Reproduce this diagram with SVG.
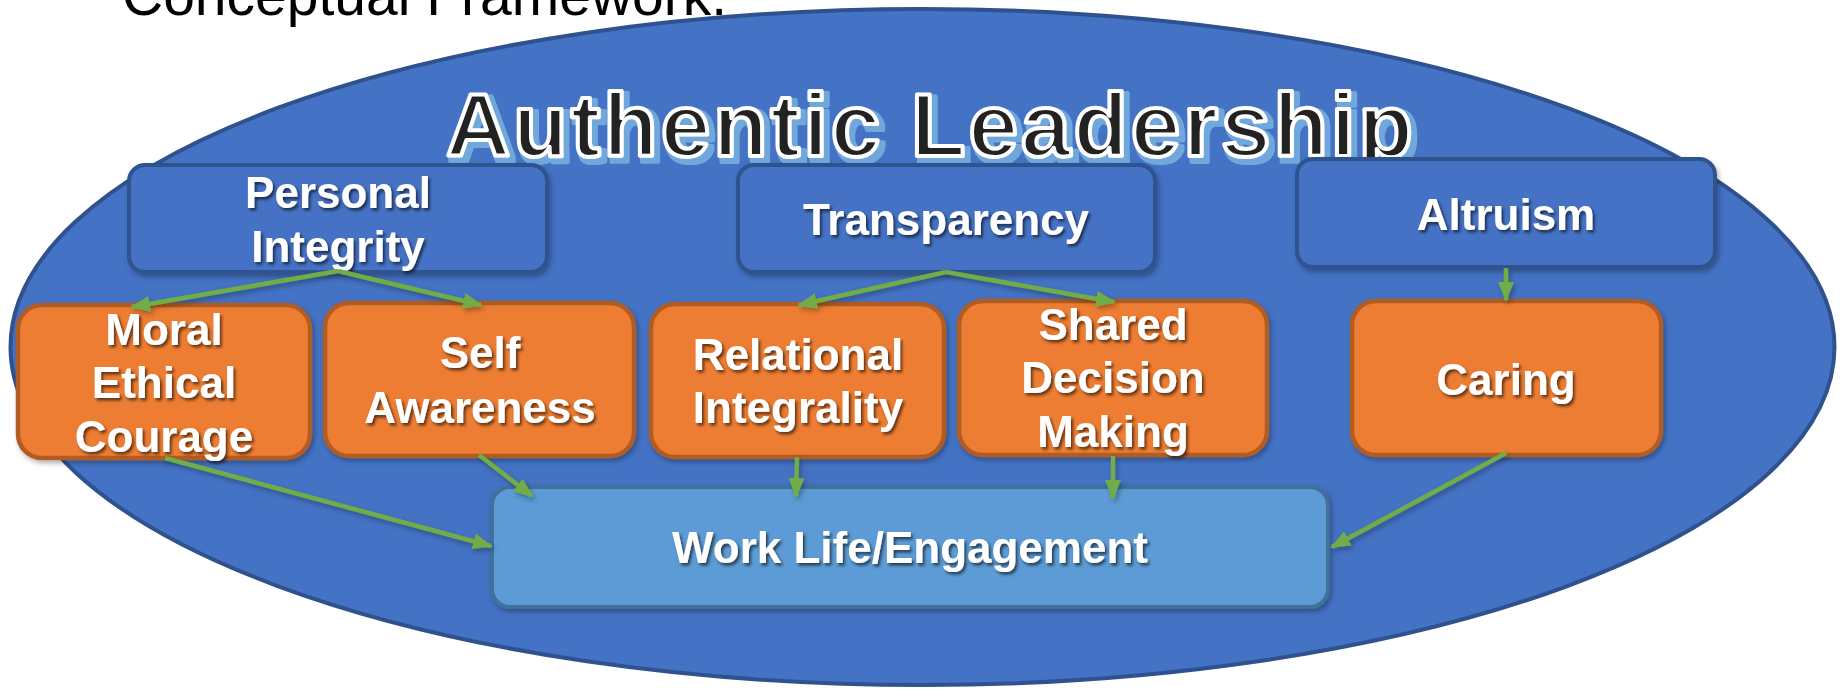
<svg xmlns="http://www.w3.org/2000/svg" width="1841" height="689" viewBox="0 0 1841 689">
<style>
.bl{fill:#4472C4;stroke:#2F528F;stroke-width:4}
.or{fill:#ED7D31;stroke:#B05B24;stroke-width:4.5}
.lb{fill:#5B9BD5;stroke:#41719C;stroke-width:4}
.t{font-family:"Liberation Sans",Arial,sans-serif;font-weight:bold;font-size:44px;fill:#fff;text-anchor:middle}
.c{fill:none;stroke:#70AD47;stroke-width:4.5}
.ttl{font-family:"Liberation Sans",Arial,sans-serif;font-weight:bold;font-size:89px;letter-spacing:3px}
</style>
<defs>
<filter id="ts" x="-10%" y="-30%" width="120%" height="160%">
<feDropShadow dx="2" dy="2.5" stdDeviation="1.5" flood-color="#000" flood-opacity="0.6"/>
</filter>
<filter id="bs" x="-5%" y="-10%" width="110%" height="125%">
<feDropShadow dx="2" dy="3" stdDeviation="2.5" flood-color="#000" flood-opacity="0.3"/>
</filter>
<filter id="tsh" x="-5%" y="-20%" width="110%" height="140%">
<feMorphology in="SourceAlpha" operator="dilate" radius="1.5" result="d"/>
<feOffset in="d" dx="4" dy="4" result="o"/>
<feFlood flood-color="#6FA8DC"/>
<feComposite in2="o" operator="in" result="s"/>
<feMerge><feMergeNode in="s"/><feMergeNode in="SourceGraphic"/></feMerge>
</filter>
<marker id="ah" viewBox="0 0 10 10" refX="9" refY="5" markerWidth="20" markerHeight="16" markerUnits="userSpaceOnUse" orient="auto" preserveAspectRatio="none">
<path d="M0,0 L10,5 L0,10 Z" fill="#70AD47"/>
</marker>
</defs>
<rect width="1841" height="689" fill="#fff"/>
<text x="122" y="15" font-family="'Liberation Sans',Arial,sans-serif" font-size="57" fill="#000">Conceptual Framework.</text>
<g id="bg">
<ellipse cx="922.5" cy="347" rx="912" ry="338" fill="#4472C4" stroke="#2F528F" stroke-width="4"/>
</g>
<g id="title">
<text x="446" y="156" class="ttl" fill="#222" stroke="#fff" stroke-width="4" stroke-linejoin="round" filter="url(#tsh)">Authentic Leadership</text>
</g>
<g id="personal-integrity">
<rect class="bl" x="129" y="165" width="418" height="107" rx="16" filter="url(#bs)"/>
<text class="t" x="338" y="208" filter="url(#ts)">Personal</text>
<text class="t" x="338" y="262" filter="url(#ts)">Integrity</text>
</g>
<g id="transparency">
<rect class="bl" x="738" y="165" width="417" height="107" rx="16" filter="url(#bs)"/>
<text class="t" x="946" y="235" filter="url(#ts)">Transparency</text>
</g>
<g id="altruism">
<rect class="bl" x="1297" y="159" width="418" height="108" rx="16" filter="url(#bs)"/>
<text class="t" x="1506" y="230" filter="url(#ts)">Altruism</text>
</g>
<g id="moral-ethical-courage">
<rect class="or" x="18" y="305" width="292" height="153" rx="24" filter="url(#bs)"/>
<text class="t" x="164" y="345" filter="url(#ts)">Moral</text>
<text class="t" x="164" y="398" filter="url(#ts)">Ethical</text>
<text class="t" x="164" y="452" filter="url(#ts)">Courage</text>
</g>
<g id="self-awareness">
<rect class="or" x="325" y="303" width="309" height="153" rx="24" filter="url(#bs)"/>
<text class="t" x="480" y="368" filter="url(#ts)">Self</text>
<text class="t" x="480" y="423" filter="url(#ts)">Awareness</text>
</g>
<g id="relational-integrality">
<rect class="or" x="651" y="304" width="293" height="153" rx="24" filter="url(#bs)"/>
<text class="t" x="798" y="370" filter="url(#ts)">Relational</text>
<text class="t" x="798" y="423" filter="url(#ts)">Integrality</text>
</g>
<g id="shared-decision-making">
<rect class="or" x="959" y="301" width="308" height="154" rx="24" filter="url(#bs)"/>
<text class="t" x="1113" y="340" filter="url(#ts)">Shared</text>
<text class="t" x="1113" y="393" filter="url(#ts)">Decision</text>
<text class="t" x="1113" y="447" filter="url(#ts)">Making</text>
</g>
<g id="caring">
<rect class="or" x="1352" y="301" width="309" height="154" rx="24" filter="url(#bs)"/>
<text class="t" x="1506" y="395" filter="url(#ts)">Caring</text>
</g>
<g id="work-life-engagement">
<rect class="lb" x="492" y="487" width="836" height="120" rx="18" filter="url(#bs)"/>
<text class="t" x="910" y="563" filter="url(#ts)">Work Life/Engagement</text>
</g>
<g id="connectors" filter="url(#bs)">
<path class="c" d="M338,271 L132,307" marker-end="url(#ah)"/>
<path class="c" d="M338,271 L481,305" marker-end="url(#ah)"/>
<path class="c" d="M946,272 L799,305" marker-end="url(#ah)"/>
<path class="c" d="M946,272 L1114,302" marker-end="url(#ah)"/>
<path class="c" d="M1506,268 L1506,300" marker-end="url(#ah)"/>
<path class="c" d="M165,458 L491,546" marker-end="url(#ah)"/>
<path class="c" d="M479,455 L532,496" marker-end="url(#ah)"/>
<path class="c" d="M797,457 L796,496" marker-end="url(#ah)"/>
<path class="c" d="M1113,456 L1113,498" marker-end="url(#ah)"/>
<path class="c" d="M1506,453 L1332,547" marker-end="url(#ah)"/>
</g>
</svg>
